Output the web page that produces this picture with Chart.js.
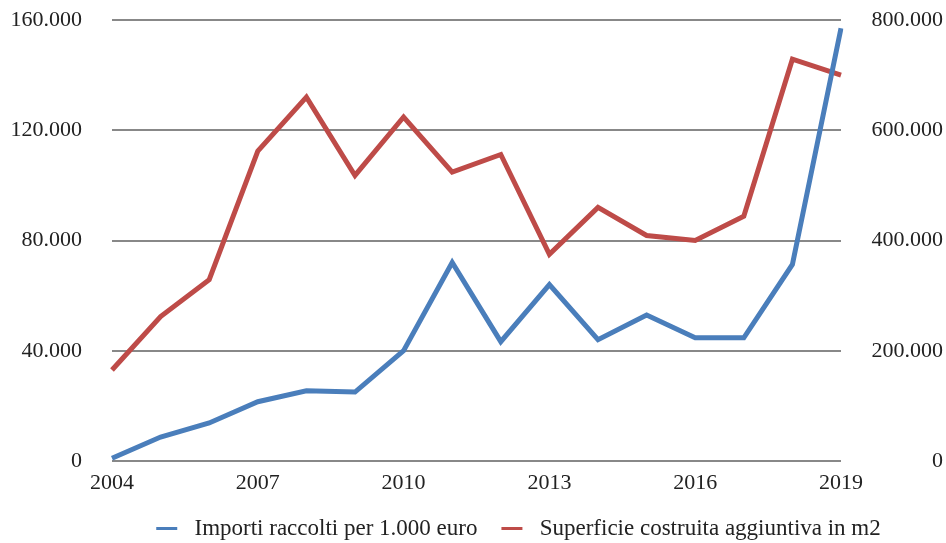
<!DOCTYPE html>
<html>
<head>
<meta charset="utf-8">
<script src="https://cdn.jsdelivr.net/npm/chart.js@4/dist/chart.umd.min.js"></script>
<style>
  html, body { margin: 0; padding: 0; background: #fff; }
  #wrap { width: 946px; height: 543px; }
</style>
</head>
<body>
<div id="wrap"><canvas id="chart"></canvas></div>
<script>
const years = ['2004', '2005', '2006', '2007', '2008', '2009', '2010', '2011',
  '2012', '2013', '2014', '2015', '2016', '2017', '2018', '2019'];

// importi raccolti (migliaia di euro) - asse sinistro
const importi = [1000, 8700, 13800, 21500, 25500, 25000, 40000, 72000,
  43300, 64000, 44000, 53000, 44700, 44700, 71300, 157000];

// superficie costruita aggiuntiva (m2) - asse destro
const superficie = [165000, 262000, 329000, 562000, 660000, 518000, 624000, 524000,
  556000, 375000, 460000, 409000, 400000, 444000, 729000, 700000];

const shownYears = ['2004', '2007', '2010', '2013', '2016', '2019'];

const blue = '#4a7ebb';
const red = '#be4b48';
const family = '"Liberation Serif", "DejaVu Serif", serif';
const tickFont = { family, size: 22 };
const legendFont = { family, size: 23 };

function fmt(v) {
  return String(v).replace(/\B(?=(\d{3})+(?!\d))/g, '.');
}

// y axes: fixed width, no extra room for the half-label overhang
function fixY(width) {
  return scale => {
    scale.width = width;
    scale.paddingTop = 0;
    scale.paddingBottom = 0;
  };
}

// legend row sits a bit to the right of the canvas centre
const legendShift = {
  id: 'legendShift',
  afterLayout(chart) {
    chart.legend.left += 47;
    chart.legend.right += 47;
  }
};

const ctx = document.getElementById('chart').getContext('2d');

new Chart(ctx, {
  type: 'line',
  data: {
    labels: years,
    datasets: [
      {
        label: 'Importi raccolti per 1.000 euro',
        data: importi,
        yAxisID: 'y',
        borderColor: blue,
        backgroundColor: blue,
        borderWidth: 5,
        pointRadius: 0,
        tension: 0
      },
      {
        label: 'Superficie costruita aggiuntiva in m2',
        data: superficie,
        yAxisID: 'y1',
        borderColor: red,
        backgroundColor: red,
        borderWidth: 5,
        pointRadius: 0,
        tension: 0
      }
    ]
  },
  options: {
    responsive: true,
    maintainAspectRatio: false,
    animation: false,
    layout: { padding: { top: 20, right: 3, bottom: -7, left: 0 } },
    scales: {
      x: {
        grid: { display: false, drawTicks: false },
        border: { display: false },
        ticks: {
          autoSkip: false,
          maxRotation: 0,
          color: '#222',
          font: tickFont,
          padding: 9,
          callback: function(value) {
            const lbl = this.getLabelForValue(value);
            return shownYears.includes(lbl) ? lbl : '';
          }
        },
        afterFit: scale => { scale.height = 32; }
      },
      y: {
        position: 'left',
        min: 0,
        max: 160000,
        grid: { color: '#888', lineWidth: 2, drawTicks: false },
        border: { display: false },
        ticks: {
          stepSize: 40000,
          color: '#222',
          font: tickFont,
          padding: 30,
          callback: v => fmt(v)
        },
        afterFit: fixY(112)
      },
      y1: {
        position: 'right',
        min: 0,
        max: 800000,
        grid: { display: false },
        border: { display: false },
        ticks: {
          stepSize: 200000,
          color: '#222',
          font: tickFont,
          crossAlign: 'far',
          callback: v => fmt(v)
        },
        afterFit: fixY(102)
      }
    },
    plugins: {
      legend: {
        position: 'bottom',
        labels: {
          color: '#222',
          font: legendFont,
          boxWidth: 21,
          boxHeight: 3,
          padding: 24,
          generateLabels: chart => {
            const items = Chart.defaults.plugins.legend.labels.generateLabels(chart);
            items.forEach(it => {
              it.lineWidth = 0;
              it.text = ' ' + it.text;
            });
            return items;
          }
        }
      },
      tooltip: { enabled: false }
    }
  },
  plugins: [legendShift]
});
</script>
</body>
</html>
